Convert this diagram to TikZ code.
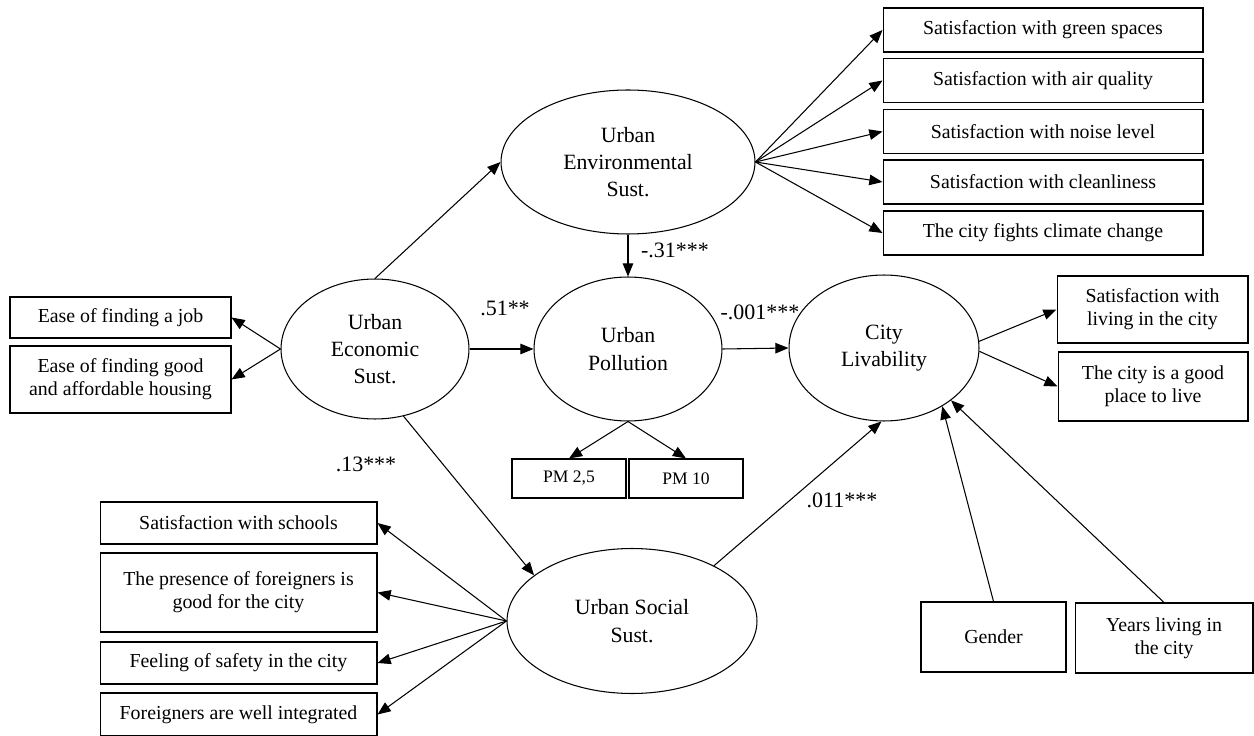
\documentclass[tikz,border=0pt]{standalone}
\usepackage{fontspec}
\setmainfont{Liberation Serif}
\usetikzlibrary{arrows.meta,shapes,positioning}

\begin{document}
\begin{tikzpicture}[x=0.02cm, y=-0.02cm]
% STYLES
\tikzset{%
    construct/.style={%
ellipse,
draw,
line width=0.6pt,
inner sep=0pt,
align=center,
font=\fontsize{12.4}{15.5}\selectfont
                          },
    item/.style={%
rectangle,
draw,
line width=0.6pt,
inner sep=2pt,
align=center,
font=\fontsize{11.3}{13}\selectfont
                          },
    pmitem/.style={item, minimum width=2.28cm, minimum height=0.78cm, font=\fontsize{10}{12}\selectfont},
    coef/.style={font=\fontsize{12.5}{14}\selectfont, inner sep=0pt},
    link/.style={-{Triangle[length=7.5pt,width=6pt]}, line width=0.6pt}
             }
\useasboundingbox (0,0) rectangle (1254,736);

% Draw constructs
\node [construct, minimum width=5.08cm, minimum height=2.88cm] (env) at (628,162) {Urban\\Environmental\\Sust.};
\node [construct, minimum width=3.76cm, minimum height=2.80cm] (econ) at (375,349) {Urban\\Economic\\Sust.};
\node [construct, minimum width=3.76cm, minimum height=2.88cm] (pollution) at (628,349) {Urban\\Pollution};
\node [construct, minimum width=3.80cm, minimum height=2.92cm] (livability) at (884,348) {City\\Livability};
\node [construct, minimum width=5.00cm, minimum height=2.90cm] (social) at (632,621) {Urban Social\\Sust.};

% Draw indicators
\node [item, minimum width=6.4cm, minimum height=0.88cm] (green) at (1043,30) {Satisfaction with green spaces};
\node [item, minimum width=6.4cm, minimum height=0.88cm] (air) at (1043,80.5) {Satisfaction with air quality};
\node [item, minimum width=6.4cm, minimum height=0.88cm] (noise) at (1043,131.5) {Satisfaction with noise level};
\node [item, minimum width=6.4cm, minimum height=0.88cm] (clean) at (1043,182) {Satisfaction with cleanliness};
\node [item, minimum width=6.4cm, minimum height=0.88cm] (climate) at (1043,233) {The city fights climate change};

\node [item, minimum width=4.42cm, minimum height=0.82cm] (job) at (120.5,317.5) {Ease of finding a job};
\node [item, minimum width=4.42cm, minimum height=1.34cm] (housing) at (120.5,379.5) {Ease of finding good\\and affordable housing};

\node [pmitem] (pmsmall) at (569,478.5) {PM 2,5};
\node [pmitem] (pmten) at (686,478.5) {PM 10};

\node [item, minimum width=5.54cm, minimum height=0.84cm] (schools) at (238.5,523) {Satisfaction with schools};
\node [item, minimum width=5.54cm, minimum height=1.58cm] (foreigners) at (238.5,592.5) {The presence of foreigners is\\good for the city};
\node [item, minimum width=5.54cm, minimum height=0.84cm] (safety) at (238.5,663) {Feeling of safety in the city};
\node [item, minimum width=5.54cm, minimum height=0.86cm] (integrated) at (238.5,714.5) {Foreigners are well integrated};

\node [item, minimum width=3.82cm, minimum height=1.34cm] (living) at (1152.5,309.5) {Satisfaction with\\living in the city};
\node [item, minimum width=3.80cm, minimum height=1.38cm] (goodplace) at (1153,386.5) {The city is a good\\place to live};

\node [item, minimum width=2.90cm, minimum height=1.40cm] (gender) at (993.5,637) {Gender};
\node [item, minimum width=3.56cm, minimum height=1.40cm] (years) at (1164,638) {Years living in\\the city};

% Coefficients
\node [coef] (cenvpol) at (675,250) {-.31***};
\node [coef] (cecopol) at (505,308) {.51**};
\node [coef] (cpolliv) at (760,312) {-.001***};
\node [coef] (cecosoc) at (366,464) {.13***};
\node [coef] (csocliv) at (842,500) {.011***};

% Draw the structural paths
\path[link]
(econ.north) edge (env.west)
(econ.east) edge (pollution.west)
(env.south) edge (pollution.north)
(pollution.east) edge (livability.west)
(econ.-67) edge (social.155)
(social.34) edge (livability.-92)
(gender.north) edge (livability.-45)
(years.north) edge (livability.-38);

% Draw the measurement paths
\path[link]
(env.east) edge (green.west)
(env.east) edge (air.west)
(env.east) edge (noise.west)
(env.east) edge (clean.west)
(env.east) edge (climate.west)
(econ.west) edge (job.east)
(econ.west) edge (housing.east)
(pollution.south) edge (pmsmall.north)
(pollution.south) edge (pmten.north)
(social.west) edge (schools.east)
(social.west) edge (foreigners.east)
(social.west) edge (safety.east)
(social.west) edge (integrated.east)
(livability.4) edge (living.west)
(livability.-2) edge (goodplace.west);
\end{tikzpicture}
\end{document}
